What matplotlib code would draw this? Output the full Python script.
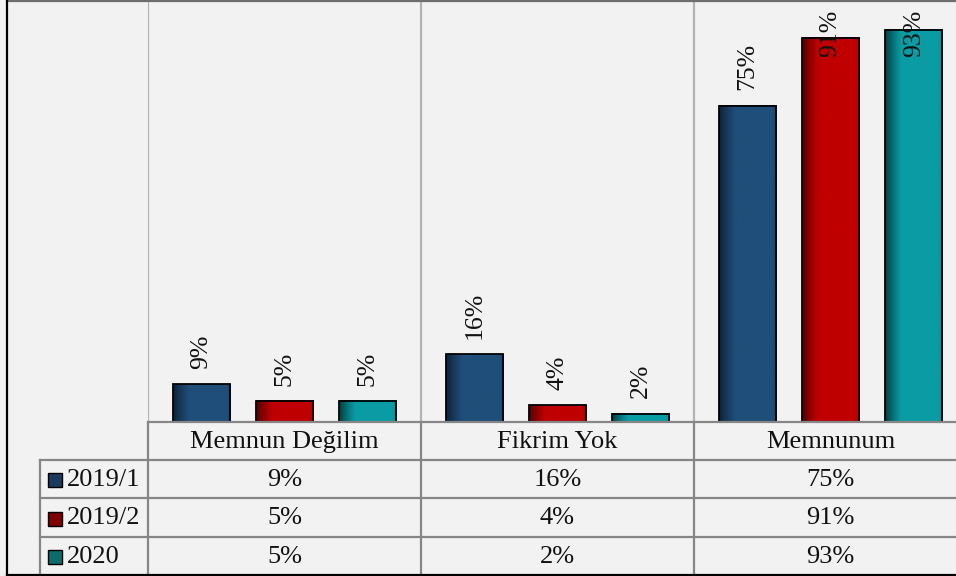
import matplotlib
matplotlib.use("Agg")
import matplotlib.pyplot as plt
import numpy as np
from matplotlib.colors import to_rgb

# veri
categories = ["Memnun Değilim", "Fikrim Yok", "Memnunum"]
series_names = ["2019/1", "2019/2", "2020"]
values_2019_1 = [9, 16, 75]
values_2019_2 = [5, 4, 91]
values_2020 = [5, 2, 93]

series_values = [values_2019_1, values_2019_2, values_2020]
base_colors = ["#1f4e79", "#c00000", "#0a9ca4"]
dark_colors = ["#0b1f33", "#4a0000", "#03383b"]
key_colors = ["#193a5e", "#7f0000", "#0d6b6e"]

W, H = 956, 576
bg = "#f2f2f2"
table_gray = "#868686"
grid_gray = "#b3b3b3"
serif = ["Liberation Serif", "DejaVu Serif"]

fig = plt.figure(figsize=(W / 100, H / 100), dpi=100, facecolor=bg)

# grafik alani (piksel olcusune gore)
left_px, base_px, cat_w = 148, 422, 273
ax = fig.add_axes([left_px / W, (H - base_px) / H, 3 * cat_w / W, base_px / H])
ax.set_facecolor(bg)
ax.set_xlim(-0.5, 2.5)
ax.set_ylim(0, 100)
for s in ax.spines.values():
    s.set_visible(False)
ax.set_xticks([])
ax.set_yticks([])

# kategori ayirici cizgiler
ax.vlines([-0.5, 0.5, 1.5], 0, 100, colors=grid_gray, lw=1.6, zorder=0)

offsets = [-0.305, 0.0, 0.305]
bar_w = 0.209
x = np.arange(len(categories))


def gradient(c_dark, c_base, n=120):
    d = np.array(to_rgb(c_dark))
    b = np.array(to_rgb(c_base))
    t = np.linspace(0, 1, n)
    k = np.clip(t / 0.28, 0, 1) ** 0.8
    k = np.where(t > 0.93, k - (t - 0.93) * 2.5, k)
    img = d[None, :] * (1 - k[:, None]) + b[None, :] * k[:, None]
    return img[None, :, :]


labels = []
for i, vals in enumerate(series_values):
    g = gradient(dark_colors[i], base_colors[i])
    for j, v in enumerate(vals):
        x0 = x[j] + offsets[i] - bar_w / 2
        ax.imshow(g, extent=[x0, x0 + bar_w, 0, v], aspect="auto", zorder=2,
                  interpolation="bilinear")
        ax.bar(x[j] + offsets[i], v, width=bar_w, facecolor="none",
               edgecolor="black", lw=1.3, zorder=3)
        t = ax.text(x[j] + offsets[i], v + 3.6, f"{v}%", rotation=90,
                    ha="center", va="bottom", fontsize=18.5, family=serif,
                    color="#111111", zorder=4)
        labels.append((t, v))

ax.set_xlim(-0.5, 2.5)
ax.set_ylim(0, 100)

# ust kenara tasan etiketleri asagi kaydir
fig.canvas.draw()
r = fig.canvas.get_renderer()
px_per_unit = base_px / 100
for t, v in labels:
    bb = t.get_window_extent(r)
    limit = H - 10
    if bb.y1 > limit:
        xx, yy = t.get_position()
        t.set_position((xx, yy - (bb.y1 - limit) / px_per_unit))

# veri tablosu
ov = fig.add_axes([0, 0, 1, 1], zorder=5)
ov.set_xlim(0, W)
ov.set_ylim(H, 0)
ov.axis("off")
ov.patch.set_visible(False)

rows = [422, 460, 498, 537, 575]
col_x = [left_px + k * cat_w for k in range(4)]
key_left = 40

ov.plot([left_px, W], [rows[0], rows[0]], color=table_gray, lw=1.6)
for yy in rows[1:4]:
    ov.plot([key_left, W], [yy, yy], color=table_gray, lw=1.6)
for xx in col_x[:3]:
    ov.plot([xx, xx], [rows[0], rows[-1]], color=table_gray, lw=1.6)
ov.plot([key_left, key_left], [rows[1], rows[-1]], color=table_gray, lw=1.6)

# dis cerceve
ov.plot([7, W], [0.8, 0.8], color="#6e6e6e", lw=1.6)
ov.plot([7, 7], [0, rows[-1]], color="black", lw=1.6)
ov.plot([7, W], [rows[-1], rows[-1]], color="black", lw=1.6)

for j, cat in enumerate(categories):
    cx = left_px + (j + 0.5) * cat_w
    ov.text(cx, (rows[0] + rows[1]) / 2 + 1, cat, ha="center", va="center",
            fontsize=19, family=serif, color="#111111")

for i, name in enumerate(series_names):
    cy = (rows[i + 1] + rows[i + 2]) / 2 + 1
    ov.add_patch(plt.Rectangle((48, cy - 7), 14, 14, facecolor=key_colors[i],
                               edgecolor="black", lw=1.0))
    ov.text(67, cy, name, ha="left", va="center", fontsize=19,
            family=serif, color="#111111")
    for j, v in enumerate(series_values[i]):
        cx = left_px + (j + 0.5) * cat_w
        ov.text(cx, cy, f"{v}%", ha="center", va="center", fontsize=19,
                family=serif, color="#111111")

fig.savefig("out.png", dpi=100, facecolor=bg)
